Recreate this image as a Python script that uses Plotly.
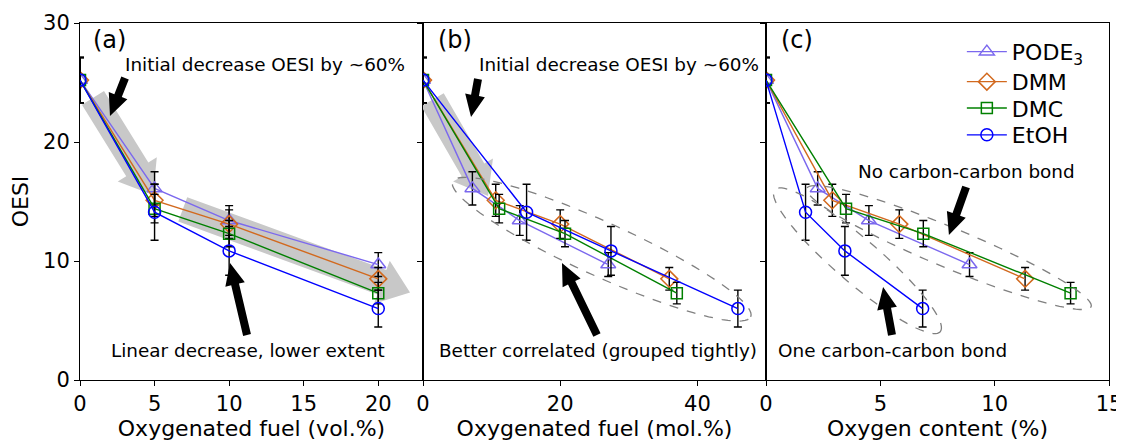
import math
import numpy as np
import plotly.graph_objects as go

# ---------------- data ----------------
series_names = ["PODE<sub>3</sub>", "DMM", "DMC", "EtOH"]
vol_pct = [0, 5, 10, 20]

pode3_oesi = [25.2, 16.1, 13.4, 9.7]
dmm_oesi = [25.2, 15.1, 13.1, 8.5]
dmc_oesi = [25.2, 14.4, 12.3, 7.3]
etoh_oesi = [25.2, 14.1, 10.85, 6.0]

pode3_err = [1.9, 1.4, 1.25, 1.0]
dmm_err = [1.9, 1.35, 1.2, 0.95]
dmc_err = [1.9, 1.2, 1.1, 0.9]
etoh_err = [1.9, 2.35, 2.05, 1.55]

pode3_mol = [0, 7.2, 14.1, 27.0]
dmm_mol = [0, 10.6, 20.0, 35.9]
dmc_mol = [0, 11.1, 20.7, 37.0]
etoh_mol = [0, 15.1, 27.4, 45.9]

pode3_oxy = [0, 2.26, 4.5, 8.9]
dmm_oxy = [0, 2.9, 5.83, 11.33]
dmc_oxy = [0, 3.5, 6.88, 13.32]
etoh_oxy = [0, 1.73, 3.45, 6.85]

x_ticks_a = [0, 5, 10, 15, 20]
x_ticks_b = [0, 20, 40]
x_ticks_c = [0, 5, 10, 15]
y_ticks = [0, 10, 20, 30]

# ---------------- styling ----------------
colors = ["#7b68ee", "#d2691e", "#008000", "#0000ff"]
symbols = ["triangle-up-open", "diamond-open", "square-open", "circle-open"]
msizes = [13, 13, 11, 12]
FONT = "DejaVu Sans"

# page body adds an 8px offset, so the figure is 8px smaller and margins shifted
W, H = 1116, 433
M = dict(l=72, r=15, t=15, b=61)
PW = (W - M["l"] - M["r"]) / 3.0
PH = H - M["t"] - M["b"]
XR = {"x": [0, 23], "x2": [0, 50], "x3": [0, 15]}
YR = [0, 30]
YREF = {"x": "y", "x2": "y2", "x3": "y3"}


def scale(xref):
    return PW / (XR[xref][1] - XR[xref][0]), PH / (YR[1] - YR[0])


def arrow_path(xref, tail, tip, shaft, head_w, head_l):
    sx, sy = scale(xref)
    dx = (tip[0] - tail[0]) * sx
    dy = (tip[1] - tail[1]) * sy
    L = math.hypot(dx, dy)
    ux, uy = dx / L, dy / L
    nx, ny = -uy, ux
    b = L - head_l
    pts = [
        (nx * shaft / 2, ny * shaft / 2),
        (ux * b + nx * shaft / 2, uy * b + ny * shaft / 2),
        (ux * b + nx * head_w / 2, uy * b + ny * head_w / 2),
        (ux * L, uy * L),
        (ux * b - nx * head_w / 2, uy * b - ny * head_w / 2),
        (ux * b - nx * shaft / 2, uy * b - ny * shaft / 2),
        (-nx * shaft / 2, -ny * shaft / 2),
    ]
    d = []
    for i, (px, py) in enumerate(pts):
        d.append(("M" if i == 0 else "L") + f"{tail[0] + px / sx:.4f},{tail[1] + py / sy:.4f}")
    return " ".join(d) + " Z"


def ellipse_path(xref, center, a_px, b_px, ang_deg):
    sx, sy = scale(xref)
    t = np.linspace(0, 2 * np.pi, 91)
    ang = math.radians(-ang_deg)
    px = a_px * np.cos(t) * math.cos(ang) - b_px * np.sin(t) * math.sin(ang)
    py = a_px * np.cos(t) * math.sin(ang) + b_px * np.sin(t) * math.cos(ang)
    xs = center[0] + px / sx
    ys = center[1] + py / sy
    d = [("M" if i == 0 else "L") + f"{x:.4f},{y:.4f}" for i, (x, y) in enumerate(zip(xs, ys))]
    return " ".join(d) + " Z"


oesi = [pode3_oesi, dmm_oesi, dmc_oesi, etoh_oesi]
errs = [pode3_err, dmm_err, dmc_err, etoh_err]
mols = [pode3_mol, dmm_mol, dmc_mol, etoh_mol]
oxys = [pode3_oxy, dmm_oxy, dmc_oxy, etoh_oxy]
legend_ids = ["legend", "legend2", "legend3", "legend4"]

fig = go.Figure()
panels = [("x", "y", [vol_pct] * 4), ("x2", "y2", mols), ("x3", "y3", oxys)]
for pi, (xa, ya, xs_list) in enumerate(panels):
    for i in range(4):
        fig.add_trace(go.Scatter(
            x=xs_list[i], y=oesi[i], xaxis=xa, yaxis=ya,
            mode="lines+markers", name=series_names[i],
            showlegend=(pi == 2), legend=legend_ids[i],
            line=dict(color=colors[i], width=1.4),
            marker=dict(symbol=symbols[i], size=msizes[i], color=colors[i],
                        line=dict(width=1.5, color=colors[i])),
            error_y=dict(type="data", array=errs[i], visible=True,
                         color="black", thickness=1.4, width=4),
        ))

axis_common = dict(showline=True, linecolor="black", linewidth=1, mirror=True,
                   ticks="outside", ticklen=5, tickwidth=1, tickcolor="black",
                   showgrid=False, zeroline=False, automargin=False,
                   tickfont=dict(family=FONT, size=21, color="black"),
                   title_font=dict(family=FONT, size=22, color="black"))

legend_common = dict(x=0.857, xanchor="left", yanchor="top",
                     bgcolor="rgba(0,0,0,0)",
                     font=dict(family=FONT, size=22, color="black"),
                     itemwidth=40)
# row centres of the reference legend (page px): 53, 81, 108, 135
legend_y = [0.978, 0.894, 0.820, 0.745]

fig.update_layout(
    width=W, height=H, margin=M,
    paper_bgcolor="white", plot_bgcolor="white",
    font=dict(family=FONT, color="black"),
    xaxis=dict(domain=[0, 1 / 3], range=XR["x"], tickvals=x_ticks_a,
               title=dict(text="Oxygenated fuel (vol.%)", standoff=4), **axis_common),
    xaxis2=dict(domain=[1 / 3, 2 / 3], range=XR["x2"], tickvals=x_ticks_b,
                title=dict(text="Oxygenated fuel (mol.%)", standoff=4), **axis_common),
    xaxis3=dict(domain=[2 / 3, 1], range=XR["x3"], tickvals=x_ticks_c,
                title=dict(text="Oxygen content (%)", standoff=4), **axis_common),
    yaxis=dict(anchor="x", range=YR, tickvals=y_ticks,
               title=dict(text="OESI", standoff=10), **axis_common),
    yaxis2=dict(anchor="x2", range=YR, tickvals=y_ticks, showticklabels=False, **axis_common),
    yaxis3=dict(anchor="x3", range=YR, tickvals=y_ticks, showticklabels=False, **axis_common),
    legend=dict(y=legend_y[0], **legend_common),
    legend2=dict(y=legend_y[1], **legend_common),
    legend3=dict(y=legend_y[2], **legend_common),
    legend4=dict(y=legend_y[3], **legend_common),
)

# ---------------- gray (background) arrows ----------------
gray_arrows = [
    ("x", (0.87, 23.7), (4.9, 15.55)),
    ("x", (6.89, 14.34), (22.13, 7.35)),
    ("x2", (1.38, 23.55), (9.48, 15.46)),
]
shapes = []
for xr, tail, tip in gray_arrows:
    shapes.append(dict(type="path", xref=xr, yref=YREF[xr], layer="below",
                       path=arrow_path(xr, tail, tip, 26, 46, 30),
                       fillcolor="#c8c8c8", line=dict(width=0)))

# ---------------- dashed ellipses ----------------
ellipses = [
    ("x2", (26.05, 10.99), 163.6, 27, 24.4),
    ("x3", (8.0, 11.13), 154, 20, 22.6),
    ("x3", (4.0, 10.02), 109, 22, 40.6),
]
for xr, c, a, b, ang in ellipses:
    shapes.append(dict(type="path", xref=xr, yref=YREF[xr], layer="above",
                       path=ellipse_path(xr, c, a, b, ang),
                       line=dict(color="gray", width=1.3, dash="dash")))

# ---------------- black arrows ----------------
black_arrows = [
    ("x", (3.02, 25.38), (2.01, 22.18)),
    ("x", (11.2, 3.78), (10.06, 9.83)),
    ("x2", (8.02, 25.29), (7.0, 22.1)),
    ("x2", (25.36, 3.78), (20.26, 9.83)),
    ("x3", (8.75, 16.22), (8.0, 12.18)),
    ("x3", (5.51, 3.78), (5.12, 7.82)),
]
for xr, tail, tip in black_arrows:
    shapes.append(dict(type="path", xref=xr, yref=YREF[xr], layer="above",
                       path=arrow_path(xr, tail, tip, 8, 20, 22),
                       fillcolor="black", line=dict(width=0)))
fig.update_layout(shapes=shapes)

# ---------------- text ----------------
texts = [
    ("x", 2.0, 28.6, "(a)", 24),
    ("x2", 4.66, 28.6, "(b)", 24),
    ("x3", 1.36, 28.6, "(c)", 24),
    ("x", 12.4, 26.55, "Initial decrease OESI by ~60%", 18.4),
    ("x2", 28.5, 26.55, "Initial decrease OESI by ~60%", 18.4),
    ("x", 11.27, 2.52, "Linear decrease, lower extent", 18.4),
    ("x2", 25.44, 2.52, "Better correlated (grouped tightly)", 18.4),
    ("x3", 8.75, 17.56, "No carbon-carbon bond", 18.4),
    ("x3", 5.51, 2.52, "One carbon-carbon bond", 18.4),
]
for xr, x, y, t, fs in texts:
    fig.add_annotation(x=x, y=y, xref=xr, yref=YREF[xr], text=t, showarrow=False,
                       xanchor="center", yanchor="middle",
                       font=dict(family=FONT, size=fs, color="black"))

fig.write_html("out.html")
